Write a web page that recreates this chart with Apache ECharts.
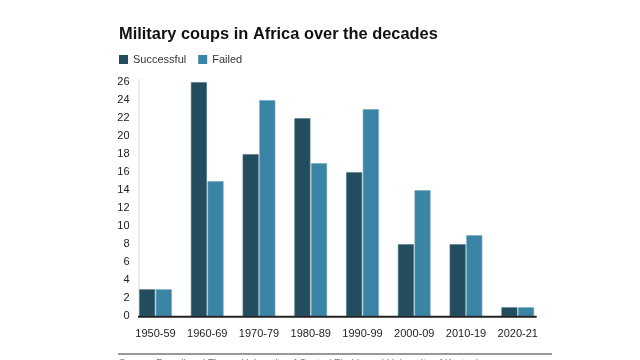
<!DOCTYPE html>
<html><head><meta charset="utf-8">
<script src="https://cdn.jsdelivr.net/npm/echarts@6/dist/echarts.min.js"></script>
<style>html,body{margin:0;padding:0;background:#fff}#c{width:640px;height:360px}</style>
</head><body><div id="c"></div>
<script>
var categories = ['1950-59','1960-69','1970-79','1980-89','1990-99','2000-09','2010-19','2020-21'];
var successful = [3, 26, 18, 22, 16, 8, 8, 1];
var failed = [3, 15, 24, 17, 23, 14, 9, 1];
var seriesNames = ['Successful', 'Failed'];
var titleText = 'Military coups in Africa over the decades';
var sourceText = 'Source: Powell and Thyne, University of Central Florida and University of Kentucky';

var chart = echarts.init(document.getElementById('c'));
var font = 'Liberation Sans, Arial, sans-serif';
chart.setOption({
  animation: false,
  title: {text: titleText, left: 119, top: 26, padding: 0, textStyle: {fontFamily: font, fontSize: 16.4, fontWeight: 'bold', color: '#111'}},
  legend: {left: 119, top: 54, padding: 0, itemWidth: 9, itemHeight: 9, itemGap: 12, icon: 'rect',
    itemStyle: {borderWidth: 0},
    textStyle: {fontFamily: font, fontSize: 11, color: '#333'},
    data: seriesNames},
  grid: {left: 129.6, right: 96.4, top: 82.3, bottom: 43.7, containLabel: false},
  xAxis: {type: 'category', data: categories, axisLine: {show: false}, axisTick: {show: false},
    axisLabel: {interval: 0, fontFamily: font, fontSize: 11, color: '#222', margin: 12}},
  yAxis: {type: 'value', min: 0, max: 26, interval: 2, splitLine: {show: false},
    axisLine: {show: false}, axisTick: {show: false},
    axisLabel: {fontFamily: font, fontSize: 11, color: '#222', margin: 0}},
  series: [
    {name: seriesNames[0], type: 'bar', data: successful, barWidth: 16, barGap: '4%',
      itemStyle: {color: '#224d5e', borderColor: '#4a7383', borderWidth: 0.6}},
    {name: seriesNames[1], type: 'bar', data: failed, barWidth: 16,
      itemStyle: {color: '#3a84a5', borderColor: '#6aa3bd', borderWidth: 0.6}}
  ]
});
var p0 = chart.convertToPixel({gridIndex: 0}, [0, 0]);
var pN = chart.convertToPixel({gridIndex: 0}, [categories.length - 1, 0]);
var pT = chart.convertToPixel({gridIndex: 0}, [0, 26]);
var x0 = p0[0] - 16.5, x1 = pN[0] + 19;
chart.setOption({
  graphic: [
    {type: 'line', shape: {x1: x0, y1: p0[1], x2: x0, y2: pT[1] - 4}, style: {stroke: '#ddd', lineWidth: 1}, z: 1},
    {type: 'line', shape: {x1: x0 - 1, y1: p0[1] + 0.5, x2: x1, y2: p0[1] + 0.5}, style: {stroke: '#222', lineWidth: 2}, z: 10},
    {type: 'line', shape: {x1: 118, y1: 354, x2: 552, y2: 354}, style: {stroke: '#999', lineWidth: 2}},
    {type: 'text', left: 119, top: 359, style: {text: sourceText, font: '10px ' + font, fill: '#777'}}
  ]
});
</script></body></html>
